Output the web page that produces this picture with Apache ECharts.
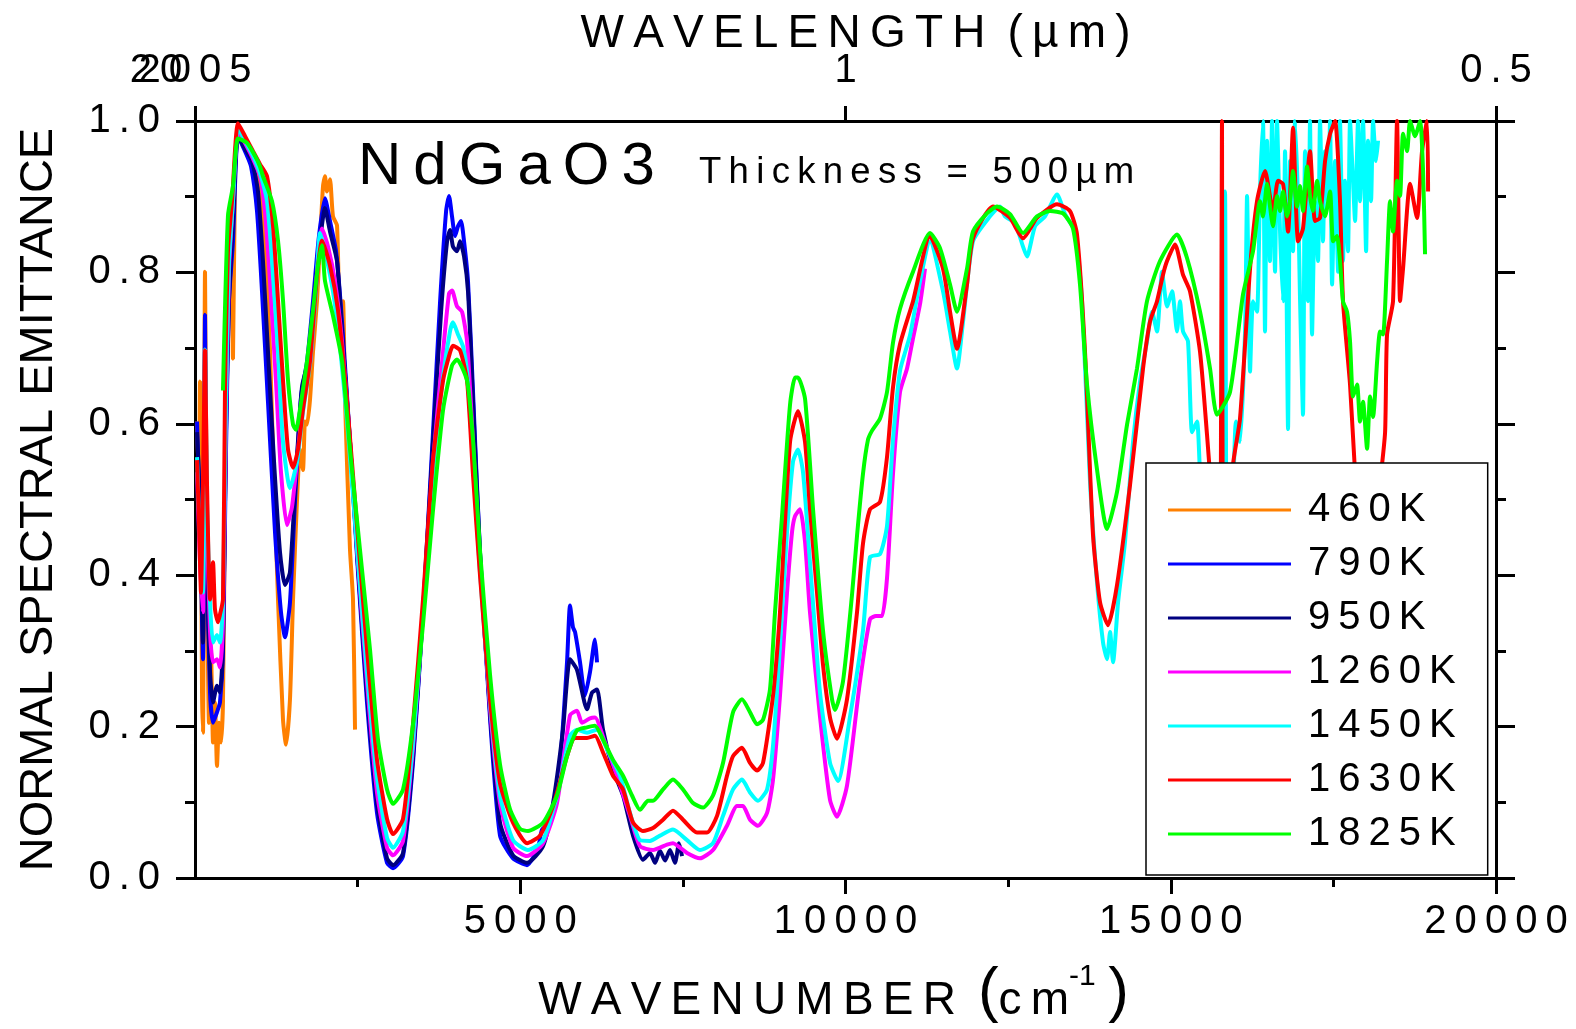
<!DOCTYPE html>
<html><head><meta charset="utf-8">
<script src="https://cdn.jsdelivr.net/npm/echarts@6.0.0/dist/echarts.min.js"></script>
<style>html,body{margin:0;padding:0;background:#fff}#c{width:1576px;height:1029px}</style>
</head><body><div id="c"></div><script>
const FONT = '"Liberation Sans", Arial, sans-serif';
const sp = s => Array.from(s).join('\u2009');

const temps = ['460K','790K','950K','1260K','1450K','1630K','1825K'];
const colors = ['#FF8000','#0000FF','#000080','#FF00FF','#00FFFF','#FF0000','#00FF00'];
const bottomMajor = [5000,10000,15000,20000];
const bottomMinor = [2500,7500,12500,17500];
const yMajor = [0,0.2,0.4,0.6,0.8,1.0];
const yMinor = [0.1,0.3,0.5,0.7,0.9];
const topTickValues = [0,10000,20000];
const topTickLabels = ['2005','1','0.5'];

const e460 = [[31,0.603],[61,0.523],[77,0.656],[108,0.245],[123,0.192],[154,0.801],[184,0.417],[215,0.205],[246,0.298],[277,0.179],[307,0.232],[338,0.148],[369,0.205],[400,0.179],[430,0.232],[461,0.497],[492,0.722],[522,0.828],[553,0.894],[584,0.686],[615,0.921],[661,0.987],[769,0.967],[876,0.947],[968,0.927],[1030,0.894],[1092,0.815],[1153,0.697],[1199,0.566],[1276,0.368],[1353,0.209],[1399,0.176],[1460,0.236],[1507,0.368],[1568,0.499],[1614,0.566],[1660,0.539],[1691,0.603],[1722,0.599],[1768,0.632],[1814,0.695],[1876,0.763],[1922,0.841],[1968,0.914],[1998,0.927],[2029,0.907],[2075,0.923],[2121,0.874],[2183,0.862],[2229,0.730],[2275,0.762],[2306,0.632],[2383,0.433],[2429,0.368],[2460,0.196]];

const e790 = [[31,0.603],[77,0.470],[123,0.289],[154,0.744],[184,0.417],[231,0.245],[277,0.205],[338,0.219],[384,0.232],[430,0.298],[476,0.563],[522,0.762],[584,0.841],[661,0.980],[769,0.960],[861,0.940],[953,0.881],[1030,0.775],[1122,0.629],[1230,0.457],[1322,0.351],[1384,0.318],[1460,0.364],[1537,0.497],[1630,0.636],[1722,0.682],[1814,0.762],[1906,0.848],[1998,0.898],[2075,0.868],[2168,0.828],[2260,0.735],[2383,0.576],[2506,0.404],[2644,0.232],[2798,0.086],[2952,0.020],[3044,0.013],[3198,0.029],[3351,0.152],[3505,0.351],[3659,0.589],[3768,0.762],[3860,0.881],[3905,0.901],[3951,0.874],[3998,0.848],[4043,0.861],[4089,0.868],[4136,0.841],[4197,0.788],[4274,0.642],[4381,0.430],[4535,0.212],[4689,0.056],[4889,0.026],[5104,0.017],[5273,0.040],[5335,0.064],[5457,0.073],[5611,0.152],[5719,0.285],[5765,0.360],[5811,0.331],[5842,0.325],[5919,0.285],[5995,0.241],[6072,0.272],[6149,0.315],[6180,0.285]];

const e950 = [[31,0.589],[77,0.497],[123,0.311],[154,0.656],[184,0.417],[231,0.272],[277,0.232],[338,0.254],[384,0.245],[430,0.311],[476,0.589],[522,0.762],[584,0.868],[661,0.980],[769,0.963],[876,0.947],[968,0.907],[1045,0.815],[1122,0.695],[1215,0.550],[1307,0.430],[1384,0.387],[1460,0.404],[1553,0.536],[1645,0.649],[1737,0.682],[1829,0.762],[1922,0.841],[1998,0.885],[2075,0.854],[2183,0.815],[2260,0.722],[2383,0.576],[2506,0.411],[2644,0.245],[2798,0.099],[2952,0.026],[3044,0.017],[3198,0.033],[3351,0.159],[3505,0.351],[3659,0.576],[3783,0.748],[3875,0.841],[3920,0.856],[3966,0.834],[4028,0.828],[4074,0.841],[4136,0.821],[4197,0.775],[4274,0.629],[4381,0.430],[4535,0.219],[4689,0.073],[4889,0.030],[5104,0.020],[5350,0.042],[5504,0.099],[5657,0.196],[5765,0.289],[5872,0.275],[6026,0.223],[6103,0.245],[6180,0.249],[6272,0.196],[6426,0.143],[6580,0.109],[6734,0.056],[6887,0.024],[6995,0.033],[7072,0.020],[7148,0.036],[7226,0.023],[7302,0.037],[7379,0.020],[7441,0.046],[7487,0.029]];

const e1260 = [[31,0.536],[77,0.417],[123,0.351],[154,0.603],[184,0.470],[231,0.325],[277,0.285],[338,0.289],[384,0.278],[430,0.338],[476,0.603],[522,0.801],[584,0.894],[661,0.987],[769,0.971],[892,0.950],[999,0.927],[1076,0.881],[1153,0.788],[1245,0.656],[1322,0.536],[1414,0.466],[1491,0.490],[1583,0.563],[1691,0.656],[1768,0.679],[1860,0.781],[1952,0.858],[2045,0.834],[2152,0.788],[2260,0.709],[2383,0.576],[2506,0.417],[2644,0.258],[2798,0.113],[2952,0.040],[3044,0.030],[3198,0.049],[3351,0.172],[3505,0.351],[3659,0.550],[3813,0.695],[3905,0.772],[3951,0.776],[4028,0.755],[4105,0.748],[4182,0.709],[4274,0.576],[4381,0.417],[4535,0.225],[4689,0.099],[4889,0.040],[5104,0.029],[5350,0.046],[5565,0.099],[5765,0.215],[5872,0.221],[5949,0.205],[6072,0.211],[6149,0.212],[6303,0.179],[6487,0.135],[6687,0.082],[6841,0.042],[7041,0.037],[7256,0.044],[7348,0.046],[7564,0.033],[7763,0.026],[7963,0.037],[8178,0.069],[8332,0.095],[8424,0.095],[8532,0.077],[8655,0.069],[8794,0.086],[8886,0.130],[8993,0.241],[9101,0.377],[9178,0.457],[9224,0.478],[9301,0.487],[9378,0.444],[9454,0.351],[9608,0.213],[9762,0.103],[9869,0.081],[10023,0.122],[10223,0.260],[10377,0.342],[10469,0.346],[10561,0.346],[10638,0.396],[10730,0.534],[10838,0.642],[10946,0.673],[11038,0.713],[11145,0.758],[11222,0.805]];

const e1450 = [[31,0.556],[77,0.444],[123,0.377],[154,0.698],[184,0.497],[231,0.364],[277,0.311],[338,0.321],[384,0.311],[430,0.364],[476,0.629],[522,0.815],[584,0.894],[661,0.991],[769,0.974],[892,0.954],[999,0.931],[1107,0.894],[1184,0.815],[1276,0.695],[1353,0.576],[1460,0.515],[1568,0.550],[1660,0.616],[1768,0.679],[1860,0.775],[1922,0.852],[1998,0.828],[2121,0.775],[2229,0.702],[2352,0.589],[2490,0.437],[2644,0.272],[2798,0.132],[2952,0.053],[3044,0.040],[3198,0.062],[3351,0.179],[3505,0.351],[3659,0.536],[3813,0.662],[3920,0.722],[3966,0.734],[4043,0.718],[4120,0.702],[4182,0.669],[4274,0.550],[4381,0.404],[4535,0.232],[4689,0.109],[4889,0.050],[5119,0.037],[5350,0.050],[5565,0.109],[5765,0.188],[5872,0.196],[6026,0.192],[6180,0.196],[6334,0.170],[6534,0.135],[6687,0.086],[6841,0.050],[6995,0.049],[7148,0.056],[7348,0.064],[7564,0.050],[7763,0.037],[7963,0.046],[8117,0.082],[8271,0.117],[8409,0.130],[8532,0.113],[8655,0.102],[8794,0.117],[8886,0.175],[8993,0.307],[9101,0.457],[9193,0.550],[9270,0.566],[9347,0.536],[9454,0.417],[9608,0.245],[9762,0.152],[9885,0.128],[10069,0.213],[10269,0.327],[10377,0.424],[10531,0.428],[10638,0.465],[10730,0.579],[10838,0.670],[10992,0.717],[11145,0.788],[11299,0.841],[11499,0.775],[11607,0.722],[11714,0.673],[11807,0.735],[11960,0.841],[12221,0.874],[12375,0.887],[12452,0.874],[12606,0.865],[12729,0.834],[12790,0.821],[12914,0.861],[13067,0.874],[13252,0.903],[13375,0.877],[13529,0.854],[13636,0.762],[13759,0.523],[13866,0.391],[13959,0.311],[14020,0.289],[14067,0.325],[14113,0.285],[14190,0.364],[14297,0.444],[14420,0.576],[14528,0.656],[14635,0.709],[14712,0.748],[14789,0.722],[14866,0.801],[14943,0.755],[15020,0.775],[15096,0.722],[15142,0.762],[15188,0.722],[15265,0.709],[15327,0.589],[15404,0.603],[15450,0.536],[15527,0.470],[15604,0.364],[15681,0.311],[15757,0.417],[15834,0.907],[15865,0.417],[15942,0.470],[16003,0.603],[16065,0.576],[16142,0.722],[16173,0.901],[16219,0.669],[16265,0.762],[16326,0.748],[16372,0.907],[16418,1.0],[16449,0.722],[16480,0.974],[16526,0.815],[16557,1.0],[16603,0.801],[16634,1.0],[16680,0.854],[16726,0.762],[16757,0.960],[16803,0.593],[16834,0.947],[16880,0.828],[16911,1.0],[16957,0.894],[16988,0.762],[17033,0.612],[17064,0.960],[17110,0.762],[17141,1.0],[17172,0.718],[17218,0.894],[17264,0.815],[17295,1.0],[17341,0.841],[17372,0.960],[17418,0.894],[17449,1.0],[17480,0.784],[17526,0.947],[17572,0.801],[17602,1.0],[17648,0.815],[17679,0.921],[17725,0.828],[17756,1.0],[17802,0.921],[17833,0.868],[17879,1.0],[17910,0.894],[17956,1.0],[18003,0.828],[18033,0.974],[18079,0.894],[18110,1.0],[18156,0.947],[18187,0.974]];

const e1630 = [[31,0.552],[61,0.470],[92,0.377],[123,0.523],[154,0.697],[184,0.523],[231,0.368],[277,0.417],[307,0.355],[354,0.338],[384,0.348],[430,0.368],[461,0.644],[507,0.829],[569,0.894],[661,0.997],[769,0.980],[892,0.960],[999,0.943],[1107,0.927],[1199,0.862],[1276,0.763],[1353,0.657],[1430,0.566],[1507,0.542],[1583,0.566],[1660,0.619],[1768,0.683],[1876,0.796],[1952,0.842],[2075,0.809],[2198,0.750],[2337,0.630],[2490,0.466],[2644,0.302],[2798,0.156],[2952,0.078],[3044,0.058],[3198,0.078],[3351,0.203],[3505,0.368],[3659,0.552],[3813,0.657],[3920,0.694],[3966,0.703],[4074,0.697],[4182,0.657],[4274,0.532],[4381,0.400],[4535,0.236],[4689,0.125],[4889,0.073],[5104,0.046],[5304,0.056],[5504,0.095],[5719,0.161],[5842,0.185],[6026,0.185],[6149,0.188],[6272,0.166],[6426,0.135],[6580,0.117],[6734,0.073],[6887,0.062],[7041,0.066],[7195,0.077],[7348,0.089],[7502,0.077],[7717,0.060],[7871,0.060],[8025,0.082],[8178,0.135],[8271,0.161],[8409,0.172],[8532,0.152],[8640,0.142],[8732,0.152],[8886,0.241],[8993,0.351],[9147,0.576],[9270,0.617],[9378,0.576],[9454,0.487],[9562,0.377],[9654,0.282],[9762,0.212],[9869,0.184],[10023,0.236],[10177,0.351],[10269,0.442],[10377,0.487],[10531,0.497],[10638,0.556],[10730,0.648],[10838,0.705],[11038,0.762],[11299,0.848],[11499,0.805],[11607,0.748],[11714,0.699],[11868,0.784],[11960,0.845],[12268,0.887],[12529,0.872],[12729,0.845],[12944,0.872],[13252,0.890],[13451,0.881],[13559,0.850],[13682,0.695],[13805,0.453],[13913,0.364],[14036,0.334],[14174,0.387],[14374,0.519],[14574,0.673],[14681,0.735],[14789,0.762],[14881,0.797],[14943,0.815],[15066,0.837],[15188,0.797],[15296,0.775],[15450,0.695],[15558,0.585],[15635,0.497],[15711,0.417],[15757,0.377],[15788,1.0],[15803,0.390],[15880,0.417],[15957,0.546],[16065,0.607],[16219,0.805],[16326,0.894],[16449,0.934],[16572,0.881],[16649,0.921],[16726,0.917],[16803,0.854],[16880,0.991],[16957,0.841],[17033,0.858],[17141,0.960],[17218,0.868],[17295,0.872],[17372,0.947],[17449,0.983],[17526,1.0],[17602,0.894],[17648,0.762],[17756,0.652],[17833,0.536],[17910,0.457],[17987,0.497],[18064,0.417],[18141,0.470],[18218,0.523],[18295,0.589],[18325,0.718],[18417,0.762],[18479,1.0],[18525,0.762],[18571,0.805],[18679,0.917],[18786,0.872],[18863,0.960],[18940,1.0],[18956,0.907]];

const e1825 = [[430,0.644],[507,0.875],[584,0.914],[661,0.977],[799,0.971],[922,0.954],[999,0.940],[1045,0.927],[1184,0.894],[1276,0.842],[1353,0.763],[1430,0.657],[1507,0.599],[1553,0.592],[1614,0.619],[1722,0.683],[1814,0.750],[1891,0.809],[1952,0.836],[1998,0.789],[2121,0.743],[2260,0.683],[2383,0.566],[2537,0.433],[2690,0.302],[2813,0.183],[2952,0.117],[3044,0.098],[3198,0.117],[3351,0.203],[3505,0.335],[3659,0.486],[3813,0.618],[3951,0.677],[4028,0.685],[4182,0.657],[4274,0.579],[4381,0.433],[4535,0.269],[4689,0.150],[4842,0.091],[4996,0.065],[5119,0.062],[5350,0.073],[5565,0.109],[5719,0.161],[5872,0.195],[6026,0.199],[6149,0.201],[6272,0.183],[6426,0.156],[6580,0.135],[6718,0.109],[6841,0.090],[6964,0.102],[7041,0.102],[7195,0.117],[7348,0.130],[7502,0.117],[7656,0.099],[7810,0.093],[7963,0.109],[8117,0.152],[8271,0.219],[8409,0.236],[8532,0.219],[8640,0.203],[8732,0.209],[8839,0.249],[8916,0.351],[9024,0.478],[9147,0.625],[9224,0.661],[9270,0.661],[9378,0.633],[9501,0.487],[9654,0.327],[9793,0.236],[9839,0.222],[9962,0.260],[10100,0.374],[10177,0.452],[10269,0.534],[10346,0.579],[10408,0.591],[10531,0.607],[10638,0.642],[10730,0.707],[10838,0.752],[11038,0.801],[11299,0.852],[11453,0.832],[11607,0.784],[11714,0.748],[11868,0.805],[11960,0.854],[12175,0.878],[12329,0.887],[12529,0.877],[12729,0.852],[12944,0.874],[13144,0.881],[13344,0.878],[13497,0.858],[13605,0.784],[13713,0.652],[13866,0.540],[14020,0.461],[14174,0.510],[14328,0.599],[14481,0.673],[14635,0.762],[14835,0.815],[15096,0.850],[15250,0.819],[15450,0.748],[15604,0.673],[15711,0.612],[15911,0.642],[16111,0.771],[16265,0.828],[16372,0.894],[16418,0.874],[16480,0.917],[16526,0.887],[16572,0.861],[16634,0.901],[16680,0.881],[16726,0.907],[16788,0.874],[16834,0.894],[16880,0.934],[16942,0.887],[16988,0.914],[17033,0.881],[17095,0.940],[17141,0.901],[17187,0.881],[17249,0.921],[17295,0.894],[17372,0.874],[17449,0.907],[17495,0.841],[17556,0.848],[17602,0.815],[17648,0.762],[17710,0.748],[17756,0.709],[17802,0.636],[17864,0.652],[17910,0.603],[17956,0.629],[18018,0.567],[18064,0.636],[18110,0.609],[18172,0.682],[18218,0.722],[18264,0.718],[18325,0.815],[18371,0.894],[18417,0.854],[18479,0.921],[18525,0.901],[18571,0.983],[18633,0.960],[18679,1.0],[18756,0.980],[18833,1.0],[18879,0.934],[18909,0.824]];

const dataSets = [e460, e790, e950, e1260, e1450, e1630, e1825];

const tickStyle = {color:'#000', width:3};
const lineStyleAxis = {color:'#000', width:3};
const noSplit = {show:false};

const option = {
  animation: false,
  backgroundColor: '#fff',
  textStyle: {fontFamily: FONT},
  grid: {left:195, right:80, top:121, bottom:148, show:false, containLabel:false},
  legend: {
    orient:'vertical', left:1146, top:463,
    padding:[25,32,19,22], itemGap:10, itemWidth:123, itemHeight:3,
    icon:'rect', backgroundColor:'#fff', borderColor:'#000', borderWidth:1.5, borderRadius:0,
    data: temps,
    formatter: n => sp(n),
    textStyle:{fontSize:40, lineHeight:44, color:'#000', fontFamily:FONT, padding:[0,0,0,12]}
  },
  xAxis: [
    {type:'value', min:0, max:20000, position:'bottom',
     axisLine:{show:true, onZero:false, lineStyle:lineStyleAxis},
     axisTick:{show:true, inside:false, length:16, customValues:bottomMajor, lineStyle:tickStyle},
     axisLabel:{show:true, customValues:bottomMajor, formatter:v=>sp(String(v)), fontSize:40, fontFamily:FONT, color:'#000', margin:24},
     splitLine:noSplit,
     name:'{t|'+sp('WAVENUMBER')+'\u2009 }{p|(}{t|'+sp('cm')+'}{s|-1}{p|\u2009)}',
     nameLocation:'middle', nameGap:84, nameMoveOverlap:false,
     nameTextStyle:{color:'#000', padding:[0,24,0,0], rich:{
       t:{fontSize:46, lineHeight:46, fontFamily:FONT, color:'#000', verticalAlign:'bottom'},
       p:{fontSize:62, lineHeight:62, fontFamily:FONT, color:'#000', verticalAlign:'bottom'},
       s:{fontSize:30, lineHeight:30, fontFamily:FONT, color:'#000', verticalAlign:'top'}}}
    },
    {type:'value', min:0, max:20000, position:'bottom',
     axisLine:{show:false, onZero:false},
     axisTick:{show:true, inside:false, length:9, customValues:bottomMinor, lineStyle:tickStyle},
     axisLabel:{show:false}, splitLine:noSplit},
    {type:'value', min:0, max:20000, position:'top',
     axisLine:{show:true, onZero:false, lineStyle:lineStyleAxis},
     axisTick:{show:true, inside:false, length:15, customValues:topTickValues, lineStyle:tickStyle},
     axisLabel:{show:true, customValues:topTickValues, formatter:v=>sp(topTickLabels[topTickValues.indexOf(v)] || ''), fontSize:40, fontFamily:FONT, color:'#000', margin:30},
     splitLine:noSplit,
     name: sp('WAVELENGTH')+'\u2009 '+sp('(µm)'),
     nameLocation:'middle', nameGap:64, nameMoveOverlap:false,
     nameTextStyle:{fontSize:46, fontFamily:FONT, color:'#000', padding:[0,0,0,20]}
    },
    {type:'value', min:0, max:20000, position:'top',
     axisLine:{show:false, onZero:false}, axisTick:{show:false},
     axisLabel:{show:true, customValues:[0], formatter:()=>sp('20'), fontSize:40, fontFamily:FONT, color:'#000', margin:30, padding:[0,78,0,0]},
     splitLine:noSplit}
  ],
  yAxis: [
    {type:'value', min:0, max:1, position:'left',
     axisLine:{show:true, onZero:false, lineStyle:lineStyleAxis},
     axisTick:{show:true, inside:false, length:19, customValues:yMajor, lineStyle:tickStyle},
     axisLabel:{show:true, customValues:yMajor, formatter:v=>sp(v.toFixed(1)), fontSize:40, fontFamily:FONT, color:'#000', margin:35},
     splitLine:noSplit,
     name:'NORMAL SPECTRAL EMITTANCE', nameLocation:'middle', nameGap:132, nameMoveOverlap:false,
     nameTextStyle:{fontSize:47, fontFamily:FONT, color:'#000'}
    },
    {type:'value', min:0, max:1, position:'left',
     axisLine:{show:false, onZero:false},
     axisTick:{show:true, inside:false, length:10, customValues:yMinor, lineStyle:tickStyle},
     axisLabel:{show:false}, splitLine:noSplit},
    {type:'value', min:0, max:1, position:'right',
     axisLine:{show:true, onZero:false, lineStyle:lineStyleAxis},
     axisTick:{show:true, inside:false, length:19, customValues:yMajor, lineStyle:tickStyle},
     axisLabel:{show:false}, splitLine:noSplit},
    {type:'value', min:0, max:1, position:'right',
     axisLine:{show:false, onZero:false},
     axisTick:{show:true, inside:false, length:10, customValues:yMinor, lineStyle:tickStyle},
     axisLabel:{show:false}, splitLine:noSplit}
  ],
  graphic: [
    {type:'text', left:358, top:137, z:10, style:{text:sp('NdGaO3'), font:'60px '+FONT, fill:'#000'}},
    {type:'text', left:699, top:154, z:10, style:{text:sp('Thickness = 500µm'), font:'36.5px '+FONT, fill:'#000'}}
  ],
  series: temps.map((t,i)=>({
    name:t, type:'line', data:dataSets[i], xAxisIndex:0, yAxisIndex:0,
    showSymbol:false, symbol:'none', smooth:0.2, clip:true,
    lineStyle:{width:4, color:colors[i]}, itemStyle:{color:colors[i]},
    emphasis:{disabled:true}
  }))
};

const chart = echarts.init(document.getElementById('c'), null, {renderer:'canvas'});
chart.setOption(option);
</script></body></html>
